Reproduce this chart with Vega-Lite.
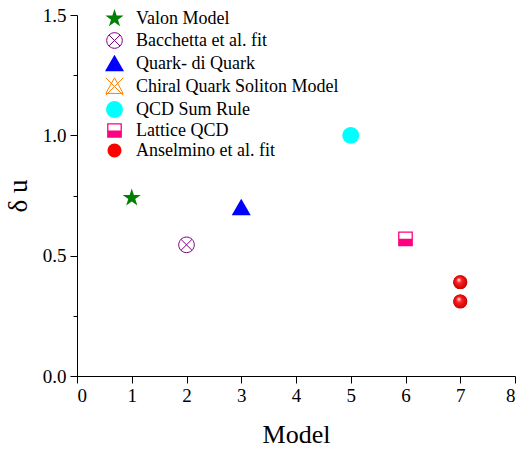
{
  "$schema": "https://vega.github.io/schema/vega-lite/v6.json",
  "width": 438,
  "height": 361,
  "autosize": "none",
  "padding": {"left": 77, "top": 15, "right": 4, "bottom": 74},
  "background": "white",
  "config": {
    "view": {"stroke": null},
    "font": "Liberation Serif",
    "style": {"guide-label": {"font": "Liberation Serif"}, "guide-title": {"font": "Liberation Serif"}},
    "axis": {
      "grid": false,
      "domainColor": "black",
      "tickColor": "black",
      "labelColor": "black",
      "titleColor": "black",
      "labelFont": "Liberation Serif",
      "titleFont": "Liberation Serif",
      "labelFontSize": 19,
      "titleFontSize": 26,
      "titleFontWeight": "normal",
      "domainWidth": 1,
      "tickWidth": 1
    }
  },
  "data": {
    "values": [
      {"model": "Valon Model", "x": 1, "du": 0.74},
      {"model": "Bacchetta et al. fit", "x": 2, "du": 0.545},
      {"model": "Quark- di Quark", "x": 3, "du": 0.70},
      {"model": "QCD Sum Rule", "x": 5, "du": 1.0},
      {"model": "Lattice QCD", "x": 6, "du": 0.57},
      {"model": "Anselmino et al. fit", "x": 7, "du": 0.39},
      {"model": "Anselmino et al. fit", "x": 7, "du": 0.31}
    ]
  },
  "encoding": {
    "x": {
      "field": "x", "type": "quantitative",
      "scale": {"domain": [0, 8], "nice": false, "zero": false},
      "axis": {"values": [0, 1, 2, 3, 4, 5, 6, 7, 8], "tickSize": 7, "labelPadding": 3, "labelFont": "Liberation Serif", "labelFontSize": 19, "titleFont": "Liberation Serif", "title": "Model", "titlePadding": 16, "labelExpr": "format(datum.value, 'd')"}
    },
    "y": {
      "field": "du", "type": "quantitative",
      "scale": {"domain": [0, 1.5], "nice": false},
      "axis": {
        "values": [0, 0.25, 0.5, 0.75, 1, 1.25, 1.5],
        "labelExpr": "datum.value % 0.5 === 0 ? format(datum.value, '.1f') : ''",
        "tickSize": {"condition": {"test": "datum.value % 0.5 === 0", "value": 7}, "value": 4},
        "labelPadding": 4,
        "labelFont": "Liberation Serif",
        "labelFontSize": 19,
        "titleFont": "Liberation Serif",
        "titleFontSize": 27,
        "title": "δ u",
        "titlePadding": 10
      }
    }
  },
  "layer": [
    {
      "mark": {"type": "point", "filled": true, "opacity": 1, "strokeWidth": 1, "size": 300},
      "encoding": {
        "shape": {
          "field": "model", "type": "nominal",
          "scale": {
            "domain": ["Valon Model", "Bacchetta et al. fit", "Quark- di Quark", "Chiral Quark Soliton Model", "QCD Sum Rule", "Lattice QCD", "Anselmino et al. fit"],
            "range": [
              "M0,-1.1 L0.247,-0.34 L1.046,-0.34 L0.4,0.13 L0.647,0.89 L0,0.42 L-0.647,0.89 L-0.4,0.13 L-1.046,-0.34 L-0.247,-0.34 Z",
              "M0.9,0 A0.9,0.9 0 1,1 -0.9,0 A0.9,0.9 0 1,1 0.9,0 M-0.636,-0.636 L0.636,0.636 M-0.636,0.636 L0.636,-0.636",
              "M0,-1 L1.1,0.9 L-1.1,0.9 Z",
              "M0,-1 L1,0.8 L-1,0.8 Z M-1,-1 L1,1 M-1,1 L1,-1",
              "M0.97,0 A0.97,0.97 0 1,1 -0.97,0 A0.97,0.97 0 1,1 0.97,0 Z",
              "M-0.85,-0.85 L0.85,-0.85 L0.85,0.85 L-0.85,0.85 Z M-0.7,-0.7 L-0.7,0 L0.7,0 L0.7,-0.7 Z",
              "M0.8,0 A0.8,0.8 0 1,1 -0.8,0 A0.8,0.8 0 1,1 0.8,0 Z"
            ]
          },
          "legend": {
            "title": null,
            "orient": "none",
            "legendX": 28,
            "legendY": -6,
            "padding": 0,
            "symbolSize": 300,
            "symbolStrokeWidth": 1,
            "labelFont": "Liberation Serif",
            "labelFontSize": 18,
            "labelColor": "black",
            "labelOffset": 12,
            "labelLimit": 400,
            "rowPadding": 1
          }
        },
        "fill": {
          "field": "model", "type": "nominal",
          "scale": {
            "domain": ["Valon Model", "Bacchetta et al. fit", "Quark- di Quark", "Chiral Quark Soliton Model", "QCD Sum Rule", "Lattice QCD", "Anselmino et al. fit"],
            "range": ["#008000", "transparent", "#0000FF", "transparent", "#00FFFF", "#FF0080", "#FF0000"]
          },
          "legend": {
            "title": null,
            "orient": "none",
            "legendX": 28,
            "legendY": -6,
            "padding": 0,
            "symbolSize": 300,
            "symbolStrokeWidth": 1,
            "labelFont": "Liberation Serif",
            "labelFontSize": 18,
            "labelColor": "black",
            "labelOffset": 12,
            "labelLimit": 400,
            "rowPadding": 1
          }
        },
        "stroke": {
          "field": "model", "type": "nominal",
          "scale": {
            "domain": ["Valon Model", "Bacchetta et al. fit", "Quark- di Quark", "Chiral Quark Soliton Model", "QCD Sum Rule", "Lattice QCD", "Anselmino et al. fit"],
            "range": ["transparent", "#800080", "transparent", "#FF8000", "transparent", "transparent", "transparent"]
          },
          "legend": {
            "title": null,
            "orient": "none",
            "legendX": 28,
            "legendY": -6,
            "padding": 0,
            "symbolSize": 300,
            "symbolStrokeWidth": 1,
            "labelFont": "Liberation Serif",
            "labelFontSize": 18,
            "labelColor": "black",
            "labelOffset": 12,
            "labelLimit": 400,
            "rowPadding": 1
          }
        }
      }
    },
    {
      "transform": [{"filter": "datum.model === 'Anselmino et al. fit'"}],
      "mark": {
        "type": "point",
        "filled": true,
        "opacity": 1,
        "size": 300,
        "shape": "M0.8,0 A0.8,0.8 0 1,1 -0.8,0 A0.8,0.8 0 1,1 0.8,0 Z",
        "fill": {
          "gradient": "radial",
          "x1": 0.38, "y1": 0.32, "r1": 0,
          "x2": 0.5, "y2": 0.5, "r2": 0.55,
          "stops": [
            {"offset": 0, "color": "#ffffff"},
            {"offset": 0.35, "color": "#ff2020"},
            {"offset": 1, "color": "#c00000"}
          ]
        }
      }
    }
  ]
}
